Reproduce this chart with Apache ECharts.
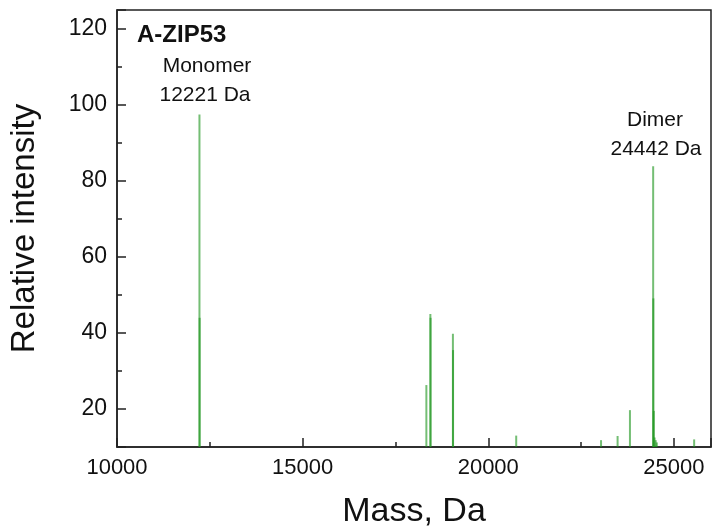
<!DOCTYPE html>
<html>
<head>
<meta charset="utf-8">
<script src="https://cdn.jsdelivr.net/npm/echarts@6/dist/echarts.min.js"></script>
<style>
  html, body { margin: 0; padding: 0; background: #fff; }
  #main { width: 712px; height: 530px; }
</style>
</head>
<body>
<div id="main"></div>
<script>
// peak list (mass in Da, relative intensity)
var peakMass      = [12221, 12226, 18333, 18441, 18446, 19048, 19052, 20753, 23038, 23484, 23817, 24442, 24447, 24460, 24480, 24510, 24540, 25546];
var peakIntensity = [97.5,  44,    26.3,  45,    44,    39.8,  35.5,  13,    11.8,  12.9,  19.7,  83.9,  49.1,  19.5,  12.5,  11.8,  11.2,  12];

var massRange = [10000, 26000];
var intensityRange = [10, 125];

var dom = document.getElementById('main');
var myChart = echarts.init(dom);

var sticks = [];
for (var i = 0; i < peakMass.length; i++) {
    sticks.push([peakMass[i], peakIntensity[i]]);
}

var txt = '#111';
var font = 'Arial, "Liberation Sans", sans-serif';

option = {
    backgroundColor: '#fff',
    animation: false,
    grid: {
        left: 117, right: 1, top: 10, bottom: 83,
        outerBoundsMode: 'none',
        containLabel: false,
        show: true, borderColor: '#222', borderWidth: 1.5
    },
    xAxis: {
        type: 'value',
        min: massRange[0],
        max: massRange[1],
        splitNumber: 4,
        name: 'Mass, Da',
        nameLocation: 'middle',
        nameGap: 48,
        nameTextStyle: {fontSize: 34, color: txt, fontFamily: font},
        axisLine: {show: true, lineStyle: {color: '#222', width: 1.5}},
        axisTick: {show: true, inside: true, length: 9, lineStyle: {color: '#222', width: 1.5}},
        minorTick: {show: true, splitNumber: 2, length: 5, lineStyle: {color: '#222', width: 1.5}},
        axisLabel: {
            fontSize: 22, color: txt, fontFamily: font, margin: 10, showMaxLabel: false,
            formatter: function (v) { return String(v); }
        },
        splitLine: {show: false}
    },
    yAxis: {
        type: 'value',
        min: intensityRange[0],
        max: intensityRange[1],
        splitNumber: 6,
        name: 'Relative intensity',
        nameLocation: 'middle',
        nameGap: 76,
        nameTextStyle: {fontSize: 33, color: txt, fontFamily: font},
        axisLine: {show: true, lineStyle: {color: '#222', width: 1.5}},
        axisTick: {show: true, inside: true, length: 9, lineStyle: {color: '#222', width: 1.5}},
        minorTick: {show: true, splitNumber: 2, length: 5, lineStyle: {color: '#222', width: 1.5}},
        axisLabel: {fontSize: 23, color: txt, fontFamily: font, margin: 10, showMinLabel: false, showMaxLabel: false},
        splitLine: {show: false}
    },
    graphic: [
        {type: 'text', left: 137, top: 23, style: {text: 'A-ZIP53', font: 'bold 24px ' + font, fill: txt}},
        {type: 'text', x: 207, y: 66, style: {text: 'Monomer', font: '21px ' + font, fill: txt, align: 'center', verticalAlign: 'middle'}},
        {type: 'text', x: 205, y: 95, style: {text: '12221 Da', font: '21px ' + font, fill: txt, align: 'center', verticalAlign: 'middle'}},
        {type: 'text', x: 655, y: 120, style: {text: 'Dimer', font: '21px ' + font, fill: txt, align: 'center', verticalAlign: 'middle'}},
        {type: 'text', x: 656, y: 149, style: {text: '24442 Da', font: '21px ' + font, fill: txt, align: 'center', verticalAlign: 'middle'}}
    ],
    series: [
        {
            name: 'spectrum',
            type: 'custom',
            clip: true,
            data: sticks,
            renderItem: function (params, api) {
                var base = api.coord([api.value(0), intensityRange[0]]);
                var top = api.coord([api.value(0), api.value(1)]);
                return {
                    type: 'line',
                    shape: {x1: base[0], y1: base[1], x2: top[0], y2: top[1]},
                    style: {stroke: 'rgba(30,150,30,0.62)', lineWidth: 2}
                };
            }
        }
    ]
};
myChart.setOption(option, true);
</script>
</body>
</html>
